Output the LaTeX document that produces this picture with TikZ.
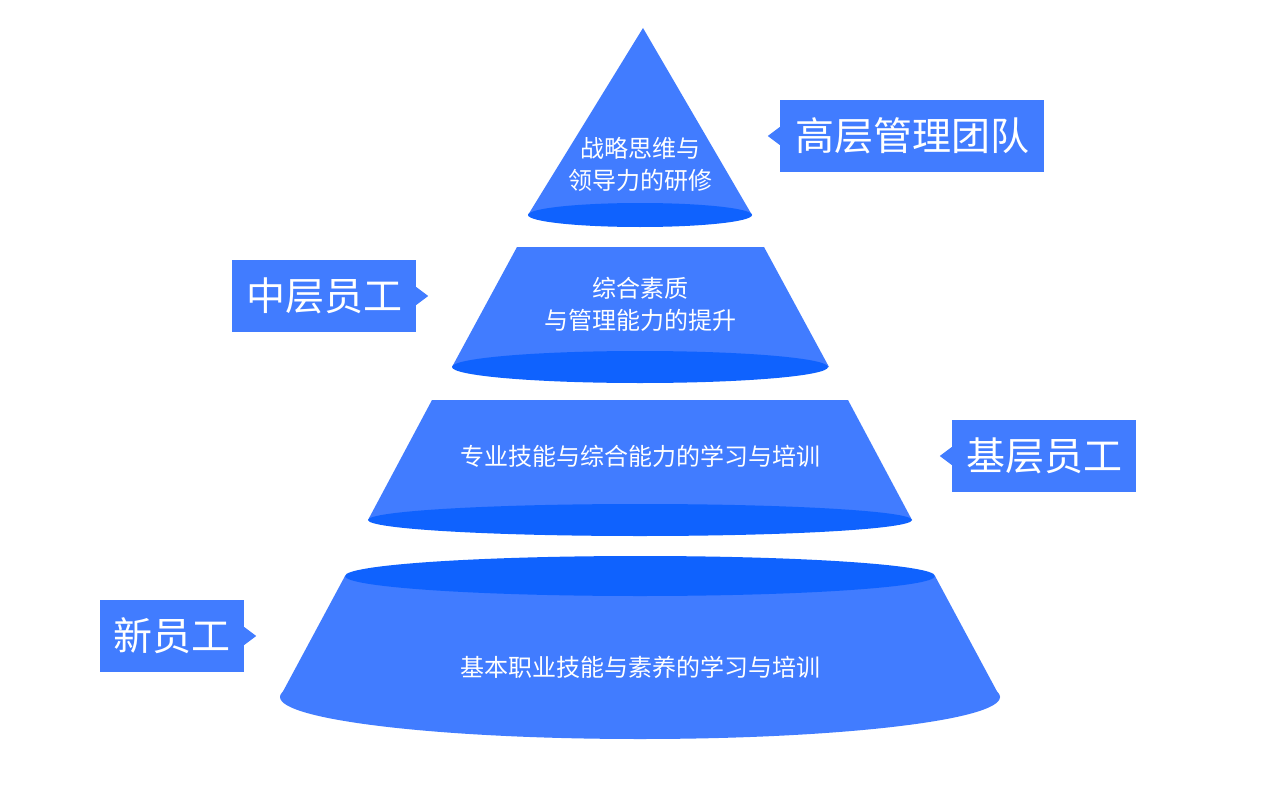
\documentclass[tikz,border=0pt]{standalone}
\usepackage{fontspec}
\newfontfamily\cjk{Noto Sans CJK SC}
\definecolor{pyrblue}{HTML}{417CFF}
\definecolor{pyrdark}{HTML}{0F62FE}

\begin{document}
\begin{tikzpicture}[x=1pt, y=-1pt,
	layer/.style={fill=pyrblue},
	rim/.style={fill=pyrdark},
	txt/.style={text=white, font=\cjk\fontsize{24}{32}\selectfont, align=center},
	tag/.style={fill=pyrblue, text=white, font=\cjk\fontsize{39}{39}\selectfont, minimum height=72pt, inner sep=0pt}]
				\fill[white] (0,0) rectangle (1280,800);
				\useasboundingbox (0,0) rectangle (1280,800);
				% top
				\fill[layer] (643,28) -- (752,215) -- (528,215) -- cycle;
				\fill[rim] (640,215) ellipse [x radius=112pt, y radius=12pt];
				\node[txt] (lead) at (640,164) {战略思维与\\领导力的研修};
				% middle
				\fill[layer] (517,247) -- (764,247) -- (829,367) -- (452,367) -- cycle;
				\fill[rim] (640,367) ellipse [x radius=188pt, y radius=16pt];
				\node[txt] (manage) at (640,304) {综合素质\\与管理能力的提升};
				% base
				\fill[layer] (432,400) -- (848,400) -- (912,520) -- (368,520) -- cycle;
				\fill[rim] (640,520) ellipse [x radius=272pt, y radius=16pt];
				\node[txt] (skill) at (640,456) {专业技能与综合能力的学习与培训};
				% new
				\fill[layer] (345,576) -- (935,576) -- (1000,697) -- (280,697) -- cycle;
				\fill[layer] (640,697) ellipse [x radius=360pt, y radius=42pt];
				\fill[rim] (640,576) ellipse [x radius=295pt, y radius=20pt];
				\node[txt] (basic) at (640,667) {基本职业技能与素养的学习与培训};
				% tags
				\node[tag, minimum width=264pt] (top) at (912,136) {高层管理团队};
				\fill[pyrblue] (top.west) ++(0,-9) -- ++(-12,9) -- ++(12,9) -- cycle;
				\node[tag, minimum width=184pt] (mid) at (324,296) {中层员工};
				\fill[pyrblue] (mid.east) ++(0,-9) -- ++(12,9) -- ++(-12,9) -- cycle;
				\node[tag, minimum width=184pt] (low) at (1044,456) {基层员工};
				\fill[pyrblue] (low.west) ++(0,-9) -- ++(-12,9) -- ++(12,9) -- cycle;
				\node[tag, minimum width=144pt] (fresh) at (172,636) {新员工};
				\fill[pyrblue] (fresh.east) ++(0,-9) -- ++(12,9) -- ++(-12,9) -- cycle;
			\end{tikzpicture}
\end{document}
